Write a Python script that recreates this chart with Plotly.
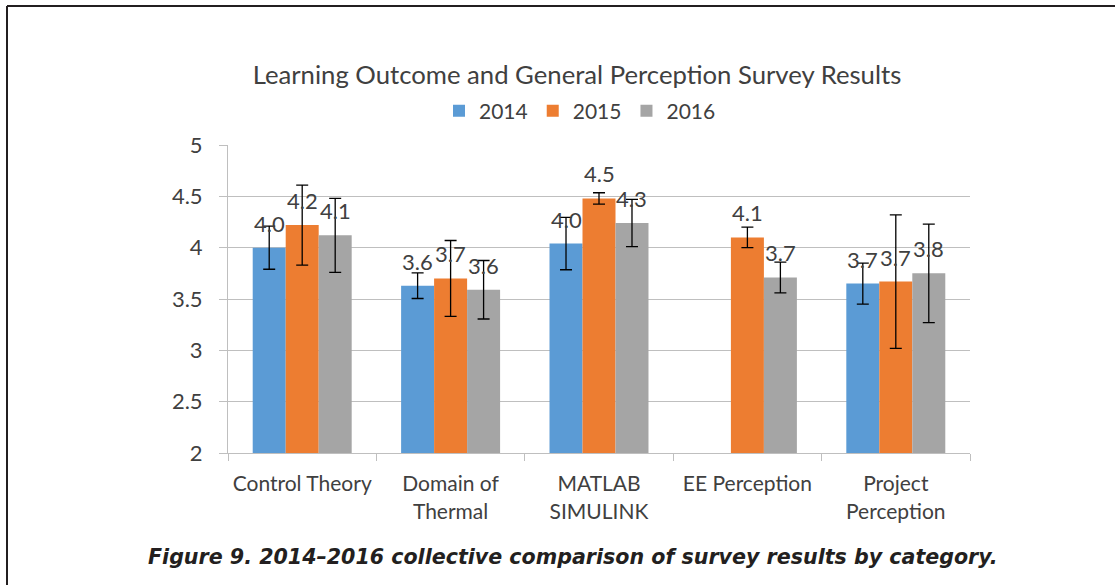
import plotly.graph_objects as go

categories = ["Control Theory", "Domain of<br>Thermal", "MATLAB<br>SIMULINK",
              "EE Perception", "Project<br>Perception"]
years = ["2014", "2015", "2016"]
v2014 = [4.00, 3.63, 4.04, None, 3.65]
v2015 = [4.22, 3.70, 4.48, 4.10, 3.67]
v2016 = [4.12, 3.59, 4.24, 3.71, 3.75]
e2014 = [0.21, 0.125, 0.255, 0, 0.20]
e2015 = [0.39, 0.37, 0.055, 0.10, 0.65]
e2016 = [0.36, 0.285, 0.23, 0.15, 0.48]
lab2014 = ["4.0", "3.6", "4.0", "", "3.7"]
lab2015 = ["4.2", "3.7", "4.5", "4.1", "3.7"]
lab2016 = ["4.1", "3.6", "4.3", "3.7", "3.8"]
y_ticks = [2, 2.5, 3, 3.5, 4, 4.5, 5]

colors = ["#5B9BD5", "#ED7D31", "#A5A5A5"]
FONT = "Lato, sans-serif"
W, H = 1115, 585
ML, MR, MT, MB = 228, 145, 145, 132
BARGAP = 0.333

series = [(years[0], v2014, e2014, lab2014),
          (years[1], v2015, e2015, lab2015),
          (years[2], v2016, e2016, lab2016)]

fig = go.Figure()
for (name, vals, errs, _), c in zip(series, colors):
    fig.add_trace(go.Bar(
        x=categories, y=vals, name=name, marker=dict(color=c, line=dict(width=0)),
        error_y=dict(type="data", array=errs, visible=True, color="#000000",
                     thickness=1.3, width=6),
    ))

plot_w = W - ML - MR
plot_h = H - MT - MB
bar_px = plot_w * (1 - BARGAP) / len(categories) / len(series)


def px_x(p):
    return (p - ML) / plot_w


def px_y(p):
    return (H - MB - p) / plot_h


annotations = []
for i, (name, vals, errs, labs) in enumerate(series):
    for cat, v, lab in zip(categories, vals, labs):
        if v is None or not lab:
            continue
        annotations.append(dict(
            x=cat, y=v, xref="x", yref="y", text=lab, showarrow=False,
            xshift=(i - 1) * bar_px, yshift=9, yanchor="bottom",
            font=dict(family=FONT, size=22, color="#404040")))

annotations.append(dict(
    x=px_x(573), y=px_y(557), xref="paper", yref="paper",
    text="<b><i>Figure 9. 2014\u20132016 collective comparison of survey results by category.</i></b>",
    showarrow=False, xanchor="center", yanchor="middle",
    font=dict(family="DejaVu Sans, sans-serif", size=20.6, color="#231f20")))

shapes = [
    dict(type="line", xref="paper", yref="paper", x0=px_x(7), x1=px_x(W), y0=px_y(6), y1=px_y(6),
         line=dict(color="#231f20", width=2)),
    dict(type="line", xref="paper", yref="paper", x0=px_x(7), x1=px_x(7), y0=px_y(6), y1=px_y(H),
         line=dict(color="#231f20", width=2)),
]

fig.update_layout(
    width=W, height=H,
    margin=dict(l=ML, r=MR, t=MT, b=MB),
    paper_bgcolor="white", plot_bgcolor="white",
    barmode="group", bargap=BARGAP, bargroupgap=0,
    title=dict(text="Learning Outcome and General Perception Survey Results",
               x=577 / W, y=1 - 75 / H, xanchor="center", yanchor="middle",
               font=dict(family=FONT, size=25.7, color="#404040")),
    legend=dict(orientation="h", x=px_x(580), y=px_y(111), xanchor="center", yanchor="middle",
                font=dict(family=FONT, size=21, color="#404040"), bgcolor="rgba(0,0,0,0)",
                itemwidth=30),
    font=dict(family=FONT, size=22, color="#404040"),
    annotations=annotations,
    shapes=shapes,
)
fig.update_xaxes(
    showline=True, linecolor="#bfbfbf", linewidth=1,
    ticks="outside", tickson="boundaries", ticklen=7, tickcolor="#bfbfbf",
    tickangle=0, ticklabelstandoff=12,
    tickfont=dict(family=FONT, size=21, color="#404040"),
    showgrid=False,
)
fig.update_yaxes(
    range=[2, 5], tickvals=y_ticks, ticktext=[f"{t:g}" for t in y_ticks],
    showline=True, linecolor="#bfbfbf", linewidth=1,
    ticks="outside", ticklen=8, tickcolor="#bfbfbf",
    showgrid=True, gridcolor="#bfbfbf", gridwidth=1, zeroline=False,
    tickfont=dict(family=FONT, size=22, color="#404040"),
    ticklabelstandoff=12,
)

fig.write_html("out.html", config={"displayModeBar": False},
               post_script="document.body.style.margin='0';")
